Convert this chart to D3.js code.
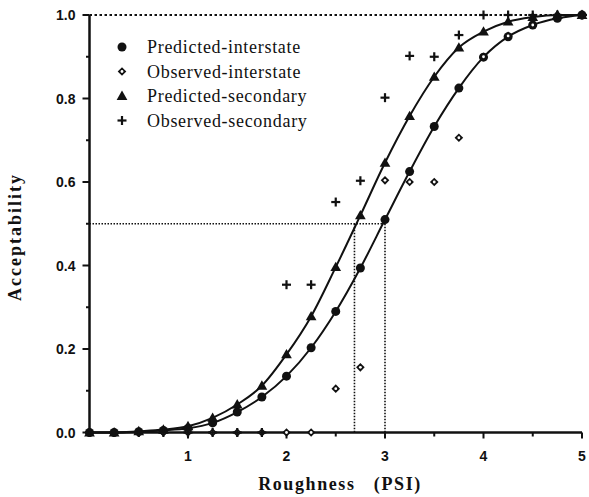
<!DOCTYPE html>
<html>
<head>
<meta charset="utf-8">
<script src="https://cdn.jsdelivr.net/npm/d3@7"></script>
<style>
  html, body { margin: 0; padding: 0; background: #fff; }
  svg { display: block; }
  .tick-label { font-family: "Liberation Sans", Arial, sans-serif; font-size: 14px; font-weight: bold; fill: #111; }
  .axis-title { font-family: "Liberation Serif", "Times New Roman", serif; font-weight: bold; fill: #111; white-space: pre; }
  .legend-text { font-family: "Liberation Serif", "Times New Roman", serif; font-size: 18px; letter-spacing: 0.7px; fill: #111; }
</style>
</head>
<body>
<svg id="chart" width="589" height="497"></svg>
<script>
// Roughness (PSI) values at which acceptability is evaluated
const roughness = [0, 0.25, 0.5, 0.75, 1, 1.25, 1.5, 1.75, 2, 2.25, 2.5, 2.75, 3, 3.25, 3.5, 3.75, 4, 4.25, 4.5, 4.75, 5];

// Acceptability series
const predictedInterstate = [0, 0, 0.002, 0.005, 0.01, 0.023, 0.049, 0.085, 0.135, 0.203, 0.29, 0.394, 0.51, 0.625, 0.733, 0.825, 0.899, 0.948, 0.976, 0.992, 1.0];
const observedInterstate  = [0, 0, 0, 0, 0, 0, 0, 0, 0, 0, 0.105, 0.156, 0.604, 0.60, 0.60, 0.706, 0.90, 0.95, 0.976, 1.0, 1.0];
const predictedSecondary  = [0, 0, 0.003, 0.007, 0.015, 0.035, 0.067, 0.112, 0.187, 0.278, 0.396, 0.52, 0.646, 0.758, 0.852, 0.922, 0.96, 0.984, 0.995, 1.0, 1.0];
const observedSecondary   = [0, 0, 0, 0, 0, 0, 0, 0, 0.354, 0.354, 0.552, 0.603, 0.802, 0.902, 0.90, 0.952, 1.0, 1.0, 1.0, 1.0, 1.0];

// Axis ticks
const xMajorTicks = [1, 2, 3, 4, 5];
const xMinorTicks = [0.5, 1.5, 2.5, 3.5, 4.5];
const yMajorTicks = [0, 0.2, 0.4, 0.6, 0.8, 1.0];
const yMinorTicks = [0.1, 0.3, 0.5, 0.7, 0.9];

// Roughness where each predicted curve crosses 50% acceptability
const halfPoints = [2.69, 3.0];

const legendLabels = ["Predicted-interstate", "Observed-interstate", "Predicted-secondary", "Observed-secondary"];

const svg = d3.select("#chart");
const x = d3.scaleLinear().domain([0, 5]).range([89.5, 582]);
const y = d3.scaleLinear().domain([0, 1]).range([432.5, 15]);

// Reference guides (dotted)
const dotted = svg.append("g").attr("stroke", "#111").attr("fill", "none");
dotted.append("line")
  .attr("x1", x(0)).attr("x2", 589).attr("y1", y(1)).attr("y2", y(1))
  .attr("stroke-width", 1.8).attr("stroke-dasharray", "2.5,2.5");
dotted.append("line")
  .attr("x1", x(0)).attr("x2", x(d3.max(halfPoints))).attr("y1", y(0.5)).attr("y2", y(0.5))
  .attr("stroke-width", 1.6).attr("stroke-dasharray", "1.5,1.5");
halfPoints.forEach(h => {
  dotted.append("line")
    .attr("x1", x(h)).attr("x2", x(h)).attr("y1", y(0.5)).attr("y2", y(0))
    .attr("stroke-width", 1.6).attr("stroke-dasharray", "1.5,1.5");
});

// Axes
const axes = svg.append("g").attr("stroke", "#111");
axes.append("line").attr("x1", x(0)).attr("x2", x(0)).attr("y1", y(0)).attr("y2", y(1)).attr("stroke-width", 2.5);
axes.append("line").attr("x1", x(0)).attr("x2", x(5)).attr("y1", y(0)).attr("y2", y(0)).attr("stroke-width", 2.5);
yMajorTicks.forEach(v => axes.append("line").attr("x1", x(0) - 7).attr("x2", x(0)).attr("y1", y(v)).attr("y2", y(v)).attr("stroke-width", 2));
yMinorTicks.forEach(v => axes.append("line").attr("x1", x(0) - 3.5).attr("x2", x(0)).attr("y1", y(v)).attr("y2", y(v)).attr("stroke-width", 2));
xMajorTicks.forEach(v => axes.append("line").attr("x1", x(v)).attr("x2", x(v)).attr("y1", y(0)).attr("y2", y(0) + 6).attr("stroke-width", 2));
xMinorTicks.forEach(v => axes.append("line").attr("x1", x(v)).attr("x2", x(v)).attr("y1", y(0)).attr("y2", y(0) + 4).attr("stroke-width", 2));

svg.append("g").selectAll("text").data(yMajorTicks).join("text")
  .attr("class", "tick-label")
  .attr("x", x(0) - 14).attr("y", d => y(d) + 5)
  .attr("text-anchor", "end")
  .text(d => d3.format(".1f")(d));

svg.append("g").selectAll("text").data(xMajorTicks).join("text")
  .attr("class", "tick-label")
  .attr("x", d => x(d)).attr("y", 461)
  .attr("text-anchor", "middle")
  .text(d => d);

// Axis titles
svg.append("text").attr("class", "axis-title")
  .attr("x", 340).attr("y", 490)
  .attr("text-anchor", "middle")
  .attr("font-size", 18).attr("letter-spacing", 1.6)
  .text("Roughness   (PSI)");
svg.append("text").attr("class", "axis-title")
  .attr("transform", "translate(21,237) rotate(-90)")
  .attr("text-anchor", "middle")
  .attr("font-size", 18).attr("letter-spacing", 2)
  .text("Acceptability");

// Predicted curves
const line = d3.line().x(d => x(d[0])).y(d => y(d[1])).curve(d3.curveMonotoneX);
[predictedInterstate, predictedSecondary].forEach(series => {
  svg.append("path")
    .datum(roughness.map((r, i) => [r, series[i]]))
    .attr("d", line)
    .attr("fill", "none").attr("stroke", "#111").attr("stroke-width", 2);
});

// Marker drawing helpers
const triangle = d3.symbol().type(d3.symbolTriangle).size(50);

function drawCircle(g, cx, cy) {
  g.append("circle").attr("cx", cx).attr("cy", cy).attr("r", 4.5).attr("fill", "#111");
}
function drawDiamond(g, cx, cy) {
  const r = 4.3;
  g.append("path")
    .attr("d", `M${cx},${cy - r}L${cx + r},${cy}L${cx},${cy + r}L${cx - r},${cy}Z`)
    .attr("fill", "#111");
  g.append("circle").attr("cx", cx).attr("cy", cy).attr("r", 1.4).attr("fill", "#fff");
}
function drawTriangle(g, cx, cy) {
  g.append("path").attr("d", triangle()).attr("transform", `translate(${cx},${cy + 0.8})`).attr("fill", "#111");
}
function drawPlus(g, cx, cy) {
  g.append("line").attr("x1", cx - 4.5).attr("x2", cx + 4.5).attr("y1", cy).attr("y2", cy).attr("stroke", "#111").attr("stroke-width", 2.2);
  g.append("line").attr("x1", cx).attr("x2", cx).attr("y1", cy - 4.5).attr("y2", cy + 4.5).attr("stroke", "#111").attr("stroke-width", 2.2);
}

const markerSeries = [
  { values: predictedInterstate, draw: drawCircle },
  { values: observedInterstate, draw: drawDiamond },
  { values: predictedSecondary, draw: drawTriangle },
  { values: observedSecondary, draw: drawPlus }
];

const marks = svg.append("g");
markerSeries.forEach(s => {
  s.values.forEach((v, i) => s.draw(marks, x(roughness[i]), y(v)));
});

// Legend
const legend = svg.append("g");
legendLabels.forEach((label, i) => {
  const ly = 47 + i * 24.5;
  markerSeries[i].draw(legend, 122, ly);
  legend.append("text").attr("class", "legend-text")
    .attr("x", 147).attr("y", ly + 6)
    .text(label);
});
</script>
</body>
</html>
